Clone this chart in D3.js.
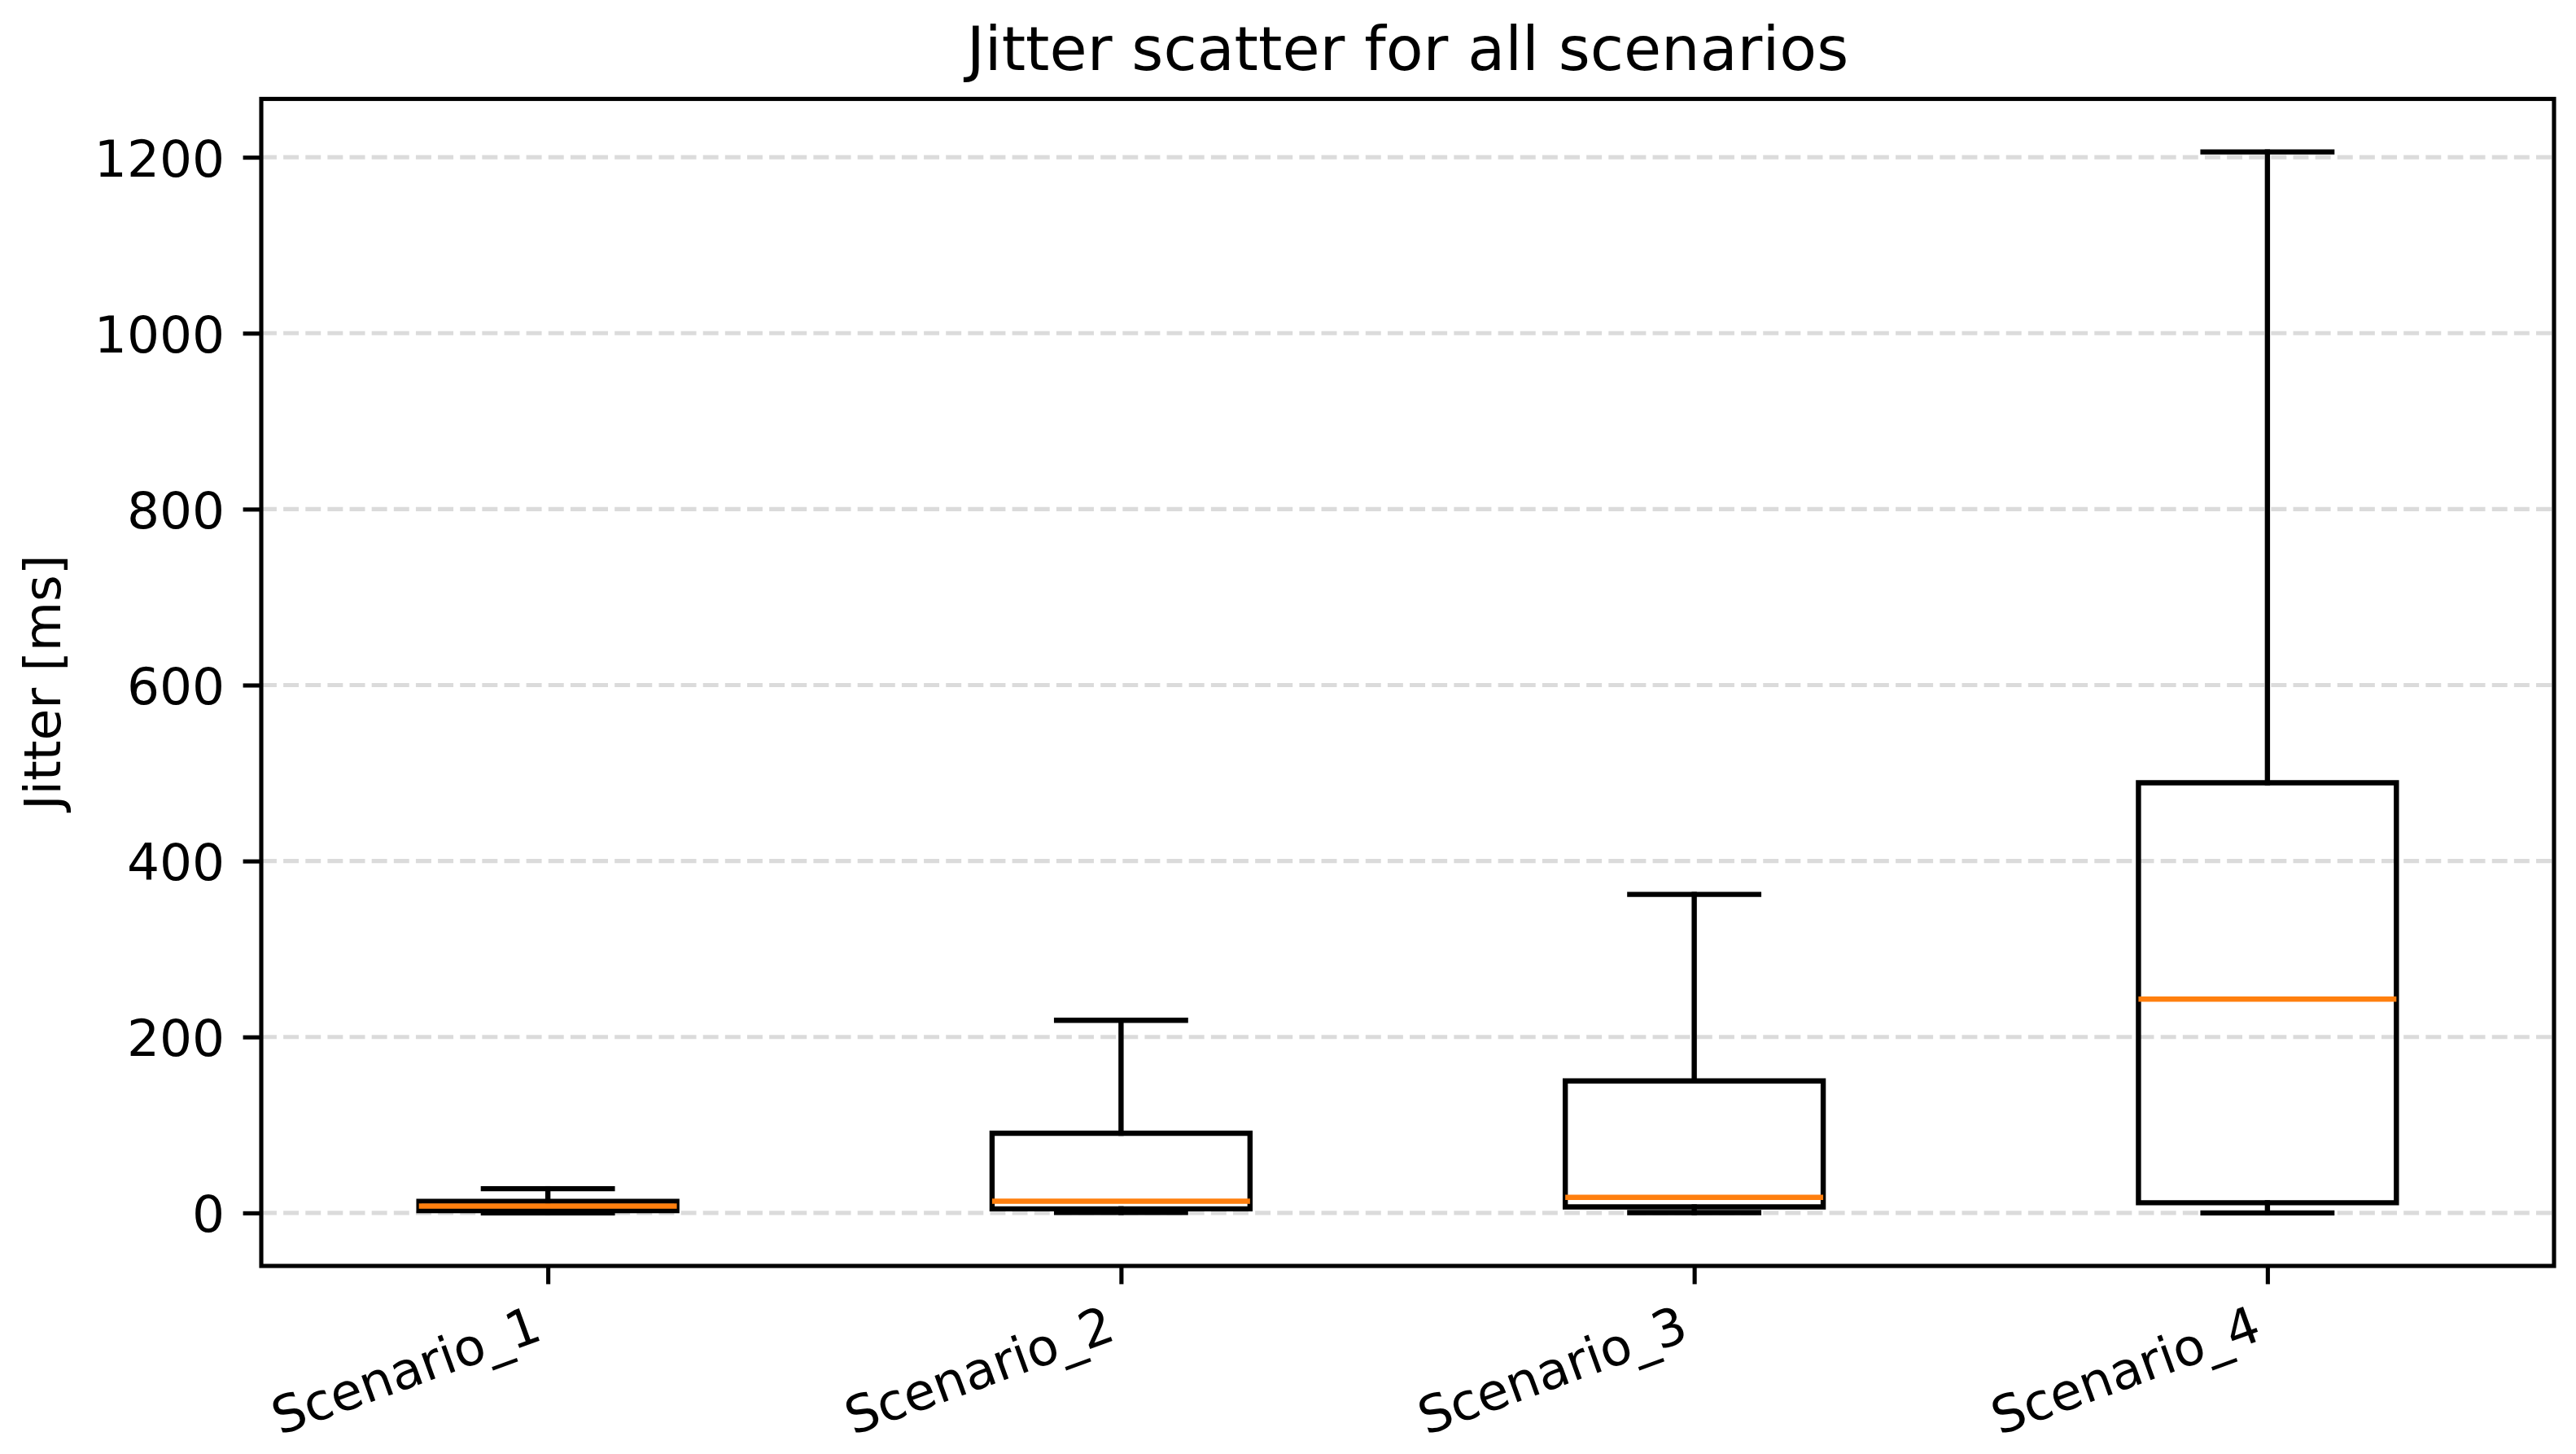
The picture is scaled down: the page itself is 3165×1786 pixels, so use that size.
<!DOCTYPE html>
<html>
<head>
<meta charset="utf-8">
<script src="https://cdn.jsdelivr.net/npm/d3@7/dist/d3.min.js"></script>
<style>
  html, body { margin: 0; padding: 0; background: #fff; }
  svg { display: block; }
  text { font-family: "DejaVu Sans", sans-serif; fill: #000; }
</style>
</head>
<body>
<script>
// ---- Data ----
const categories   = ["Scenario_1", "Scenario_2", "Scenario_3", "Scenario_4"];
const whiskerLow   = [0, 0.5, 0.3, 0];
const quartile1    = [2.5, 4.6, 6.8, 11.5];
const medians      = [7.7, 13.3, 17.6, 243];
const quartile3    = [13.2, 90.5, 150, 489];
const whiskerHigh  = [27.5, 219, 362, 1206];
const yTickValues  = [0, 200, 400, 600, 800, 1000, 1200];
const titleText    = "Jitter scatter for all scenarios";
const yLabelText   = "Jitter [ms]";

// ---- Layout ----
const W = 3165, H = 1786;
const S = 6.4;                      // px per point
const axL = 321, axR = 3138, axT = 121.5, axB = 1555;

const svg = d3.select("body").append("svg")
  .attr("width", W).attr("height", H)
  .attr("viewBox", `0 0 ${W} ${H}`);

svg.append("rect").attr("width", W).attr("height", H).attr("fill", "#fff");

// scales
const positions = categories.map((c, i) => i + 1);
const x = d3.scaleLinear().domain([0.5, categories.length + 0.5]).range([axL, axR]);
const dmin = d3.min(whiskerLow), dmax = d3.max(whiskerHigh);
const marginY = (dmax - dmin) * 0.05;
const y = d3.scaleLinear().domain([dmin - marginY, dmax + marginY]).range([axB, axT]);

const boxW = 0.45;  // in data units
const capW = boxW / 2;

// grid (horizontal dashed)
const gridG = svg.append("g");
gridG.selectAll("line").data(yTickValues).join("line")
  .attr("x1", axL).attr("x2", axR)
  .attr("y1", d => y(d)).attr("y2", d => y(d))
  .attr("stroke", "#b0b0b0").attr("stroke-opacity", 0.45)
  .attr("stroke-width", 0.8 * S)
  .attr("stroke-dasharray", `${2.96 * S} ${1.28 * S}`);

// boxes
const data = categories.map((c, i) => ({
  c, pos: positions[i], lo: whiskerLow[i], q1: quartile1[i], med: medians[i],
  q3: quartile3[i], hi: whiskerHigh[i]
}));
const lw = 1.0 * S;
const bg = svg.append("g").selectAll("g").data(data).join("g");

// whiskers
bg.append("line")
  .attr("x1", d => x(d.pos)).attr("x2", d => x(d.pos))
  .attr("y1", d => y(d.q1)).attr("y2", d => y(d.lo))
  .attr("stroke", "#000").attr("stroke-width", lw).attr("stroke-linecap", "square");
bg.append("line")
  .attr("x1", d => x(d.pos)).attr("x2", d => x(d.pos))
  .attr("y1", d => y(d.q3)).attr("y2", d => y(d.hi))
  .attr("stroke", "#000").attr("stroke-width", lw).attr("stroke-linecap", "square");
// caps
bg.append("line")
  .attr("x1", d => x(d.pos - capW / 2)).attr("x2", d => x(d.pos + capW / 2))
  .attr("y1", d => y(d.lo)).attr("y2", d => y(d.lo))
  .attr("stroke", "#000").attr("stroke-width", lw).attr("stroke-linecap", "square");
bg.append("line")
  .attr("x1", d => x(d.pos - capW / 2)).attr("x2", d => x(d.pos + capW / 2))
  .attr("y1", d => y(d.hi)).attr("y2", d => y(d.hi))
  .attr("stroke", "#000").attr("stroke-width", lw).attr("stroke-linecap", "square");
// box outline
bg.append("path")
  .attr("d", d => {
    const x0 = x(d.pos - boxW / 2), x1 = x(d.pos + boxW / 2);
    const y0 = y(d.q1), y1 = y(d.q3);
    return `M${x0},${y0}L${x1},${y0}L${x1},${y1}L${x0},${y1}Z`;
  })
  .attr("fill", "none").attr("stroke", "#000").attr("stroke-width", lw)
  .attr("stroke-linejoin", "miter");
// medians
bg.append("line")
  .attr("x1", d => x(d.pos - boxW / 2)).attr("x2", d => x(d.pos + boxW / 2))
  .attr("y1", d => y(d.med)).attr("y2", d => y(d.med))
  .attr("stroke", "#ff7f0e").attr("stroke-width", lw).attr("stroke-linecap", "butt");

// spines
svg.append("rect")
  .attr("x", axL).attr("y", axT).attr("width", axR - axL).attr("height", axB - axT)
  .attr("fill", "none").attr("stroke", "#000").attr("stroke-width", 0.8 * S)
  .attr("stroke-linejoin", "miter");

// ---- Axes ----
const tickLen = 3.5 * S, tickPad = 3.5 * S, fs = 63;

const yAxis = d3.axisLeft(y).tickValues(yTickValues).tickFormat(d3.format("d"))
  .tickSize(tickLen).tickPadding(tickPad);
const yG = svg.append("g").attr("transform", `translate(${axL},0)`).call(yAxis);
yG.select(".domain").remove();
yG.selectAll(".tick line").attr("stroke", "#000").attr("stroke-width", 0.8 * S);
yG.selectAll(".tick text")
  .attr("font-family", "DejaVu Sans").attr("font-size", fs)
  .attr("dy", "0.364em").attr("fill", "#000");

const xAxis = d3.axisBottom(x).tickValues(positions).tickFormat((d, i) => categories[i])
  .tickSize(tickLen).tickPadding(tickPad);
const xG = svg.append("g").attr("transform", `translate(0,${axB})`).call(xAxis);
xG.select(".domain").remove();
xG.selectAll(".tick line").attr("stroke", "#000").attr("stroke-width", 0.8 * S);
const ang = 20 * Math.PI / 180;
const asc = 0.76 * fs, desc = 0.236 * fs;
xG.selectAll(".tick text")
  .attr("font-family", "DejaVu Sans").attr("font-size", fs).attr("fill", "#000")
  .attr("text-anchor", "end")
  .attr("dy", null)
  .attr("y", null)
  .attr("transform", () => {
    const ax = -desc * Math.sin(ang);
    const ay = tickLen + tickPad + asc * Math.cos(ang);
    return `translate(${ax},${ay}) rotate(-20)`;
  });

// title
svg.append("text")
  .attr("x", (axL + axR) / 2).attr("y", 86)
  .attr("text-anchor", "middle")
  .attr("font-size", 75)
  .text(titleText);

// y label
svg.append("text")
  .attr("transform", `translate(74,${(axT + axB) / 2}) rotate(-90)`)
  .attr("text-anchor", "middle")
  .attr("font-size", fs)
  .text(yLabelText);
</script>
</body>
</html>
